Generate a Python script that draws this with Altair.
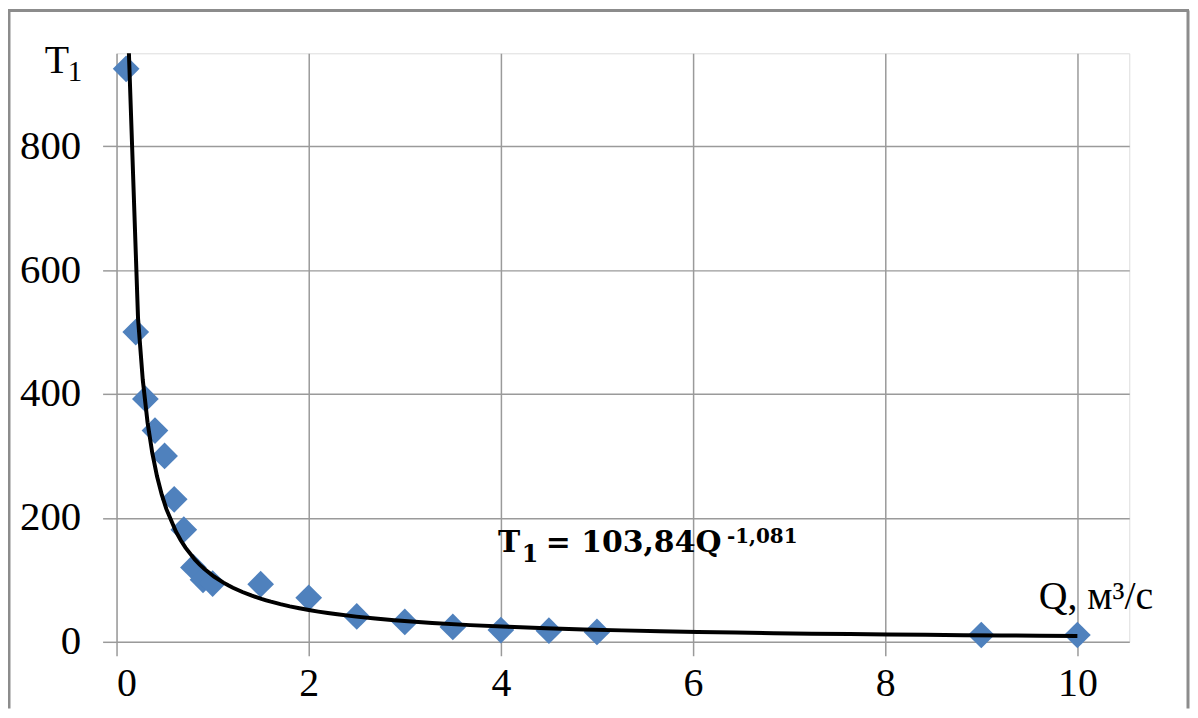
import altair as alt
import pandas as pd

# Data
q_values = [0.1, 0.2, 0.3, 0.4, 0.5, 0.6, 0.7, 0.8, 0.9, 1.0, 1.5, 2.0, 2.5, 3.0, 3.5, 4.0, 4.5, 5.0, 9.0, 10.0]
t1_values = [925, 500, 392, 341, 300, 230, 181, 120, 100, 94, 93, 71, 41, 32, 24, 19, 18, 16, 11, 11]
x_ticks = [0, 2, 4, 6, 8, 10]
y_ticks = [0, 200, 400, 600, 800]
eq_t = "T"
eq_sub = "1"
eq_rest = "= 103,84Q"
eq_exp = "-1,081"
x_title = "Q, м³/с"
y_title_main = "T"
y_title_sub = "1"

df = pd.DataFrame({"Q": q_values, "T1": t1_values})
one = pd.DataFrame({"k": [0]})

W, H = 1017, 591
PL, PT, PR, PB = 109, 44, 61, 67
FONT = "Liberation Serif"
EQFONT = "DejaVu Serif"
GRID = "#9a9a9a"
BLUE = "#4F81BD"

x_scale = alt.Scale(domain=[0, 10.54], nice=False, zero=False)
y_scale = alt.Scale(domain=[0, 950], nice=False)

x_axis = alt.Axis(values=x_ticks, grid=True, gridColor=GRID, gridWidth=1.5,
                  ticks=True, tickSize=14, tickColor=GRID, tickWidth=1.5,
                  domain=False, title=None, labelFont=FONT, labelFontSize=40,
                  labelColor="black", labelPadding=8, format="d")
y_axis = alt.Axis(values=y_ticks, grid=True, gridColor=GRID, gridWidth=1.5,
                  ticks=True, tickSize=14, tickColor=GRID, tickWidth=1.5,
                  domain=False, title=None, labelFont=FONT, labelFontSize=41,
                  labelColor="black", labelPadding=22, format="d")

base = alt.Chart(df)

points = base.mark_point(shape="diamond", filled=True, color=BLUE, opacity=1, size=720).encode(
    x=alt.X("Q:Q", scale=x_scale, axis=x_axis),
    y=alt.Y("T1:Q", scale=y_scale, axis=y_axis),
)

# power-law trendline fitted by Vega's regression transform
trend = base.transform_regression("Q", "T1", method="pow", extent=[0.125, 10]).mark_line(
    color="black", strokeWidth=4, clip=True
).encode(
    x=alt.X("Q:Q", scale=x_scale),
    y=alt.Y("T1:Q", scale=y_scale),
)

ann = alt.Chart(one)


def label(txt, x, y, size, font=FONT, weight="normal"):
    return ann.mark_text(font=font, fontSize=size, fontWeight=weight, align="left",
                         baseline="alphabetic", color="black").encode(
        x=alt.value(x), y=alt.value(y), text=alt.value(txt))


eq1 = label(eq_t, 383, 501, 30, EQFONT, "bold")
eq2 = label(eq_sub, 407, 511, 24, EQFONT, "bold")
eq3 = label(eq_rest, 431, 501, 30, EQFONT, "bold")
eq4 = label(eq_exp, 613, 492, 20, EQFONT, "bold")
xt = label(x_title, 926, 558, 40)
yt = label(y_title_main, -72, 20, 40)
yt_sub = label(y_title_sub, -49, 28, 29)

FRAME = "#8c8c8c"
frame_left = ann.mark_rule(color=FRAME, strokeWidth=3).encode(
    x=alt.value(-108), y=alt.value(-43), y2=alt.value(H + PB))
frame_top = ann.mark_rule(color=FRAME, strokeWidth=3).encode(
    x=alt.value(-109), x2=alt.value(1077), y=alt.value(-43))
frame_right = ann.mark_rule(color=FRAME, strokeWidth=3).encode(
    x=alt.value(1076), y=alt.value(-43), y2=alt.value(H + PB))

chart = alt.layer(
    points, trend, eq1, eq2, eq3, eq4, xt, yt, yt_sub, frame_left, frame_top, frame_right
).properties(
    width=W, height=H,
    padding={"left": PL, "top": PT, "right": PR, "bottom": PB},
    autosize=alt.AutoSizeParams(type="none"),
).configure_view(stroke=None).configure(background="white")

chart.save("out.html", embed_options={"renderer": "svg", "actions": False})
